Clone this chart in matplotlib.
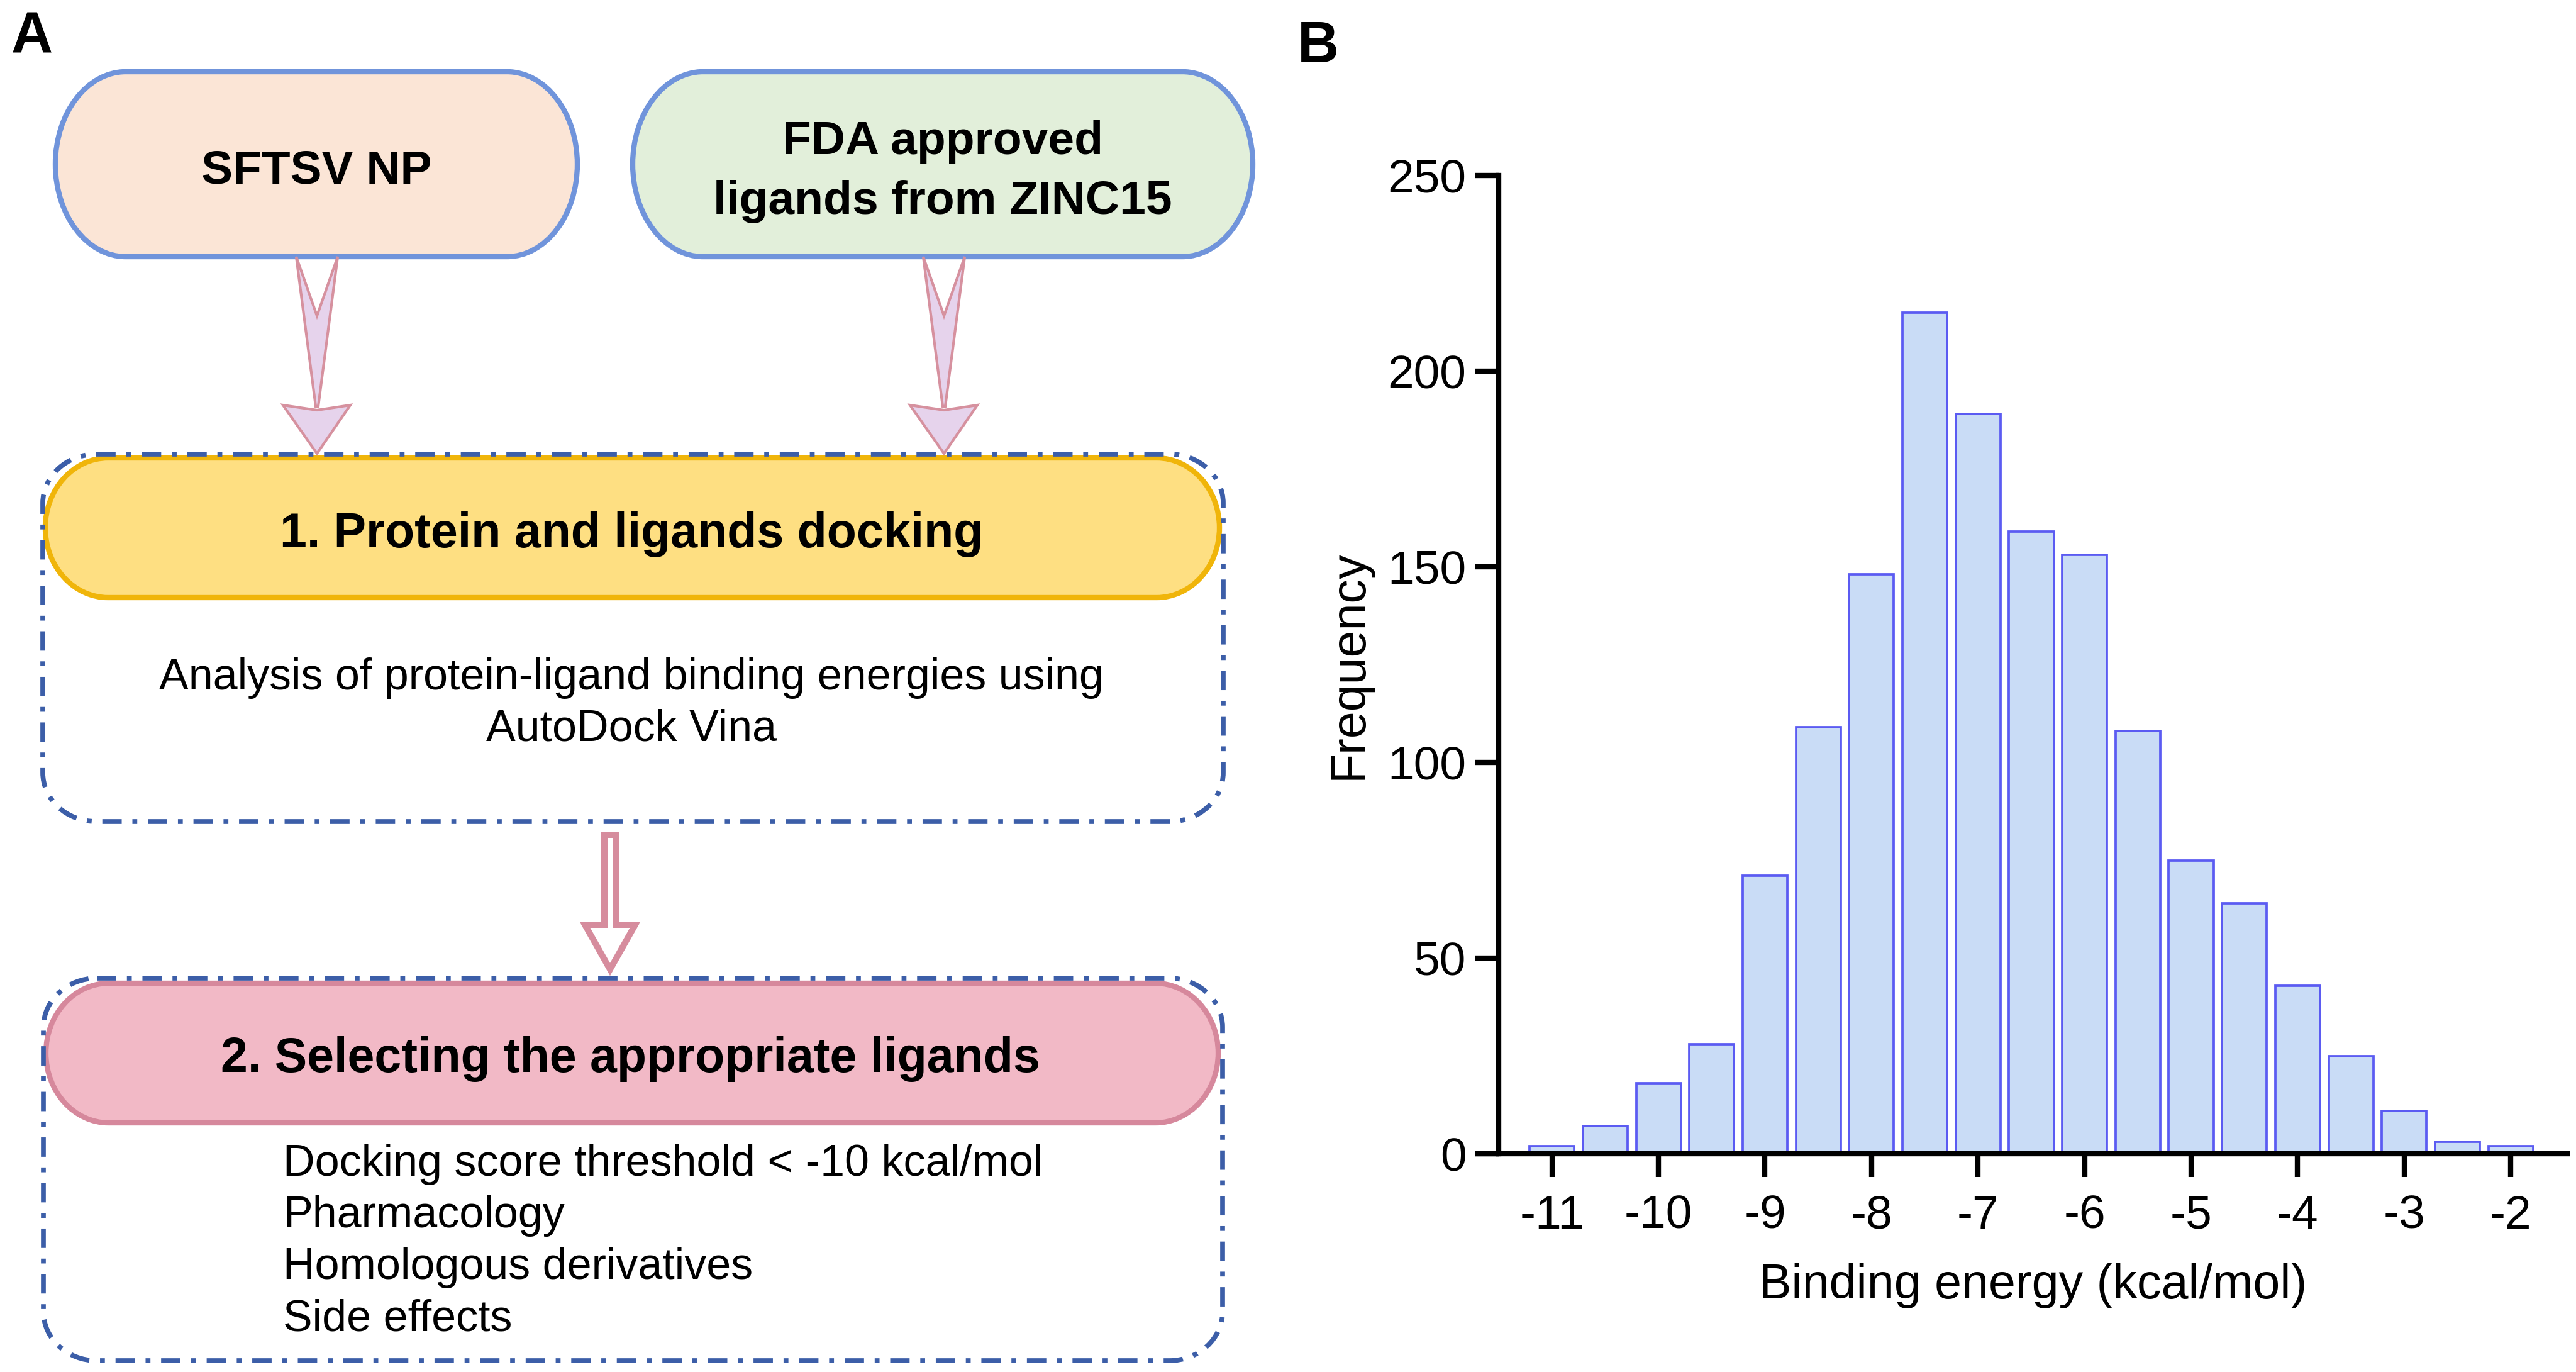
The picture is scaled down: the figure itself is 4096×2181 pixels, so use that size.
import numpy as np
import matplotlib
matplotlib.use('Agg')
import matplotlib.pyplot as plt
from matplotlib.patches import PathPatch, Polygon
from matplotlib.path import Path

plt.rcParams['font.family'] = ['Liberation Sans', 'DejaVu Sans']

# ---- panel B data (histogram of binding energies) ----
bin_centers = [-11, -10.5, -10, -9.5, -9, -8.5, -8, -7.5, -7, -6.5,
               -6, -5.5, -5, -4.5, -4, -3.5, -3, -2.5, -2]
counts = [2, 7, 18, 28, 71, 109, 148, 215, 189, 159,
          153, 108, 75, 64, 43, 25, 11, 3, 2]
x_ticks = [-11, -10, -9, -8, -7, -6, -5, -4, -3, -2]
y_ticks = [0, 50, 100, 150, 200, 250]
x_label = 'Binding energy (kcal/mol)'
y_label = 'Frequency'

# ---- panel A text ----
input_left = 'SFTSV NP'
input_right = ['FDA approved', 'ligands from ZINC15']
step1_title = '1. Protein and ligands docking'
step1_lines = ['Analysis of protein-ligand binding energies using', 'AutoDock Vina']
step2_title = '2. Selecting the appropriate ligands'
step2_lines = ['Docking score threshold < -10 kcal/mol', 'Pharmacology',
               'Homologous derivatives', 'Side effects']

W, H = 4096, 2181
DPI = 300
PT = 72 / DPI  # pixels -> points

fig = plt.figure(figsize=(W / DPI, H / DPI), dpi=DPI)

# flowchart drawn in pixel coordinates
ax0 = fig.add_axes([0, 0, 1, 1])
ax0.set_xlim(0, W)
ax0.set_ylim(H, 0)
ax0.axis('off')

dashdot = (0, (4.0, 2.2, 1.0, 2.2))


def box(x0, y0, x1, y1, rx, ry, fc, ec, lw, ls='-', z=2):
    # rounded rectangle with elliptical corners
    k = 0.5523
    verts = [(x0 + rx, y0), (x1 - rx, y0),
             (x1 - rx + k * rx, y0), (x1, y0 + ry - k * ry), (x1, y0 + ry),
             (x1, y1 - ry),
             (x1, y1 - ry + k * ry), (x1 - rx + k * rx, y1), (x1 - rx, y1),
             (x0 + rx, y1),
             (x0 + rx - k * rx, y1), (x0, y1 - ry + k * ry), (x0, y1 - ry),
             (x0, y0 + ry),
             (x0, y0 + ry - k * ry), (x0 + rx - k * rx, y0), (x0 + rx, y0),
             (x0 + rx, y0)]
    codes = ([Path.MOVETO, Path.LINETO] + [Path.CURVE4] * 3 + [Path.LINETO]
             + [Path.CURVE4] * 3 + [Path.LINETO] + [Path.CURVE4] * 3
             + [Path.LINETO] + [Path.CURVE4] * 3 + [Path.CLOSEPOLY])
    ax0.add_patch(PathPatch(Path(verts, codes), fc=fc, ec=ec, lw=lw, ls=ls, zorder=z))


def thin_arrow(cx):
    fc, ec = '#E6D3EC', '#D6919F'
    tail = [(cx - 33, 408), (cx, 502), (cx + 33, 408), (cx + 2, 646), (cx - 2, 646)]
    head = [(cx - 54, 644), (cx, 652), (cx + 53, 644), (cx, 721)]
    ax0.add_patch(Polygon(tail, closed=True, fc=fc, ec=ec, lw=1.0, zorder=3))
    ax0.add_patch(Polygon(head, closed=True, fc=fc, ec=ec, lw=1.0, zorder=3))


# input boxes
box(88, 114, 918, 408, 112, 147, '#FBE5D6', '#7094DB', 2.0)
box(1006, 114, 1992, 408, 112, 147, '#E2EFDA', '#7094DB', 2.0)
ax0.text(503, 291, input_left, ha='center', va='baseline', fontsize=18, fontweight='bold')
for txt, yb in zip(input_right, [245, 340]):
    ax0.text(1499, yb, txt, ha='center', va='baseline', fontsize=18, fontweight='bold')

thin_arrow(504)
thin_arrow(1501)

# step 1
box(68, 722, 1945, 1306, 85, 78, 'none', '#3C5EA8', 1.85, ls=dashdot, z=4)
box(72, 728, 1939, 950, 100, 111, '#FEDF82', '#F0B50A', 2.0)
ax0.text(1004, 870, step1_title, ha='center', va='baseline', fontsize=18.5, fontweight='bold')
for txt, yb in zip(step1_lines, [1096, 1178]):
    ax0.text(1004, yb, txt, ha='center', va='baseline', fontsize=16.8)

# hollow arrow between steps
cx = 970
hollow = [(cx - 9, 1327), (cx + 9, 1327), (cx + 9, 1470), (cx + 40, 1470),
          (cx, 1541), (cx - 40, 1470), (cx - 9, 1470)]
ax0.add_patch(Polygon(hollow, closed=True, fc='white', ec='#D68C9D', lw=2.4,
                      joinstyle='miter', zorder=3))

# step 2
box(69, 1555, 1944, 2163, 85, 78, 'none', '#3C5EA8', 1.85, ls=dashdot, z=4)
box(73, 1563, 1937, 1785, 100, 111, '#F2B9C6', '#D6889C', 2.0)
ax0.text(1002, 1704, step2_title, ha='center', va='baseline', fontsize=18.5, fontweight='bold')
for txt, yb in zip(step2_lines, [1869, 1951, 2033, 2116]):
    ax0.text(450, yb, txt, ha='left', va='baseline', fontsize=16.8)

# panel letters
ax0.text(18, 84, 'A', ha='left', va='baseline', fontsize=22, fontweight='bold')
ax0.text(2063, 99, 'B', ha='left', va='baseline', fontsize=22, fontweight='bold')

# ---- panel B: histogram ----
left, right, top, bottom = 2383, 4082, 279, 1834
ax1 = fig.add_axes([left / W, 1 - bottom / H, (right - left) / W, (bottom - top) / H])
ax1.bar(bin_centers, counts, width=0.42, color='#C9DCF6', edgecolor='#5B5BF2',
        linewidth=0.9, zorder=2)
ax1.set_xlim(-11.5, -1.47)
ax1.set_ylim(0, 250)
ax1.set_xticks(x_ticks)
ax1.set_xticklabels([str(t) for t in x_ticks])
ax1.set_yticks(y_ticks)
for s in ['top', 'right']:
    ax1.spines[s].set_visible(False)
for s in ['left', 'bottom']:
    ax1.spines[s].set_linewidth(2.0)
    ax1.spines[s].set_zorder(5)
ax1.tick_params(axis='both', length=37 * PT, width=2.0, labelsize=18, direction='out')
ax1.tick_params(axis='x', pad=6.7)
ax1.tick_params(axis='y', pad=3.5)
# x axis line continues under the y ticks
ext = 37 / ((right - left) / 10.03)
ax1.plot([-11.5 - ext, -11.5], [0, 0], color='black', lw=2.0, clip_on=False,
         solid_capstyle='butt', zorder=5)
ax1.set_xlabel(x_label, fontsize=18.5, labelpad=9.5)
ax1.set_ylabel(y_label, fontsize=18.5, labelpad=6)

fig.savefig('out.png', dpi=DPI)
